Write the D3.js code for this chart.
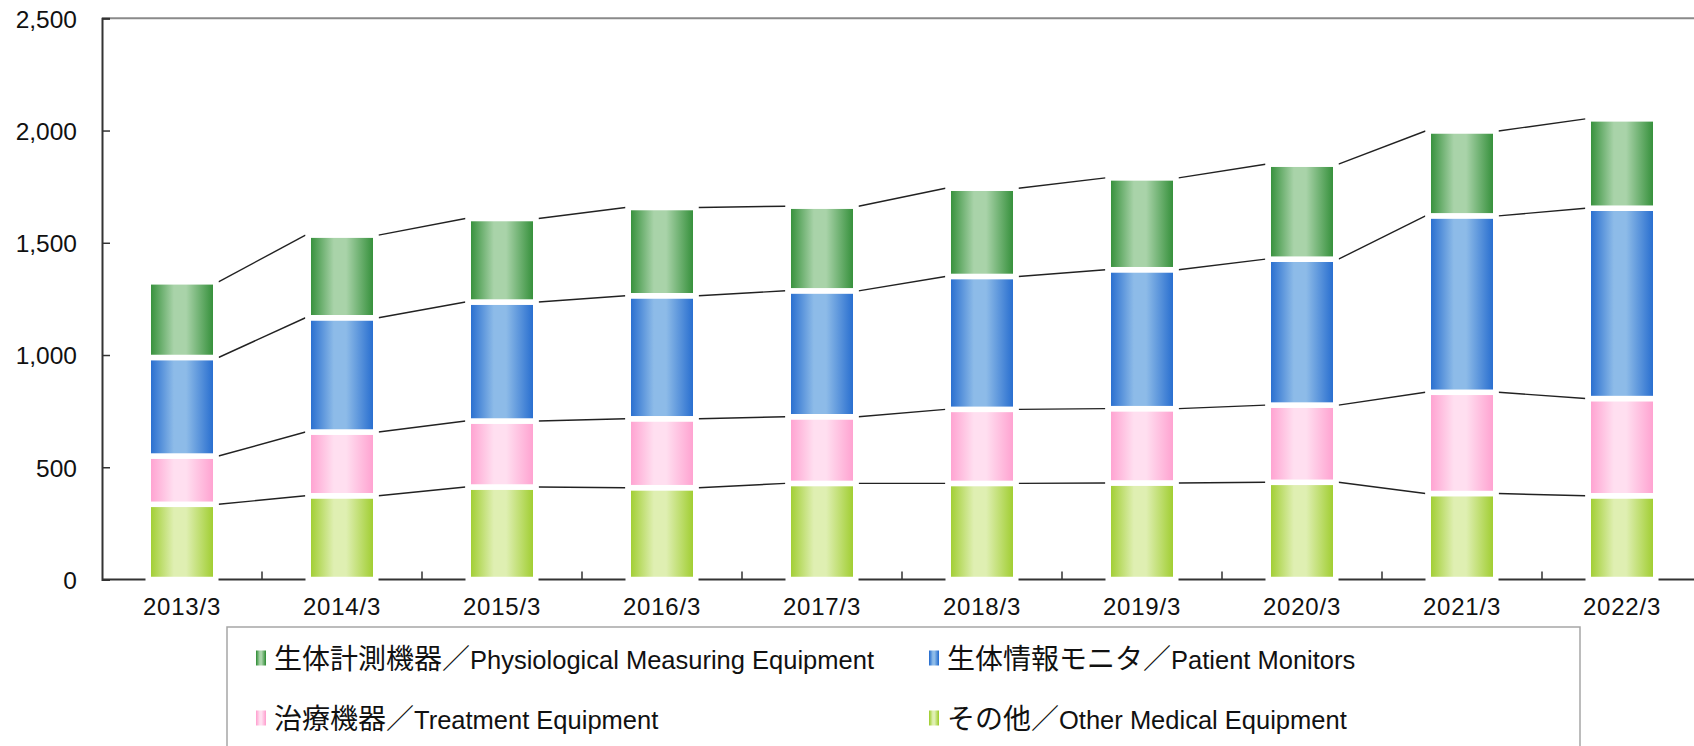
<!DOCTYPE html>
<html><head><meta charset="utf-8">
<script src="https://cdn.jsdelivr.net/npm/d3@7/dist/d3.min.js"></script>
<style>body{margin:0;background:#fff;overflow:hidden}svg{display:block}</style>
</head><body><svg id="c" width="1694" height="746"></svg>
<script>
const categories = ["2013/3","2014/3","2015/3","2016/3","2017/3","2018/3","2019/3","2020/3","2021/3","2022/3"];
const otherMedical = [335,373,412,409,428,428,430,433,383,373];
const treatment = [215,284,294,307,297,330,331,344,451,433];
const patientMonitors = [439,509,530,548,561,592,619,650,786,848];
const physiological = [337,368,372,393,377,393,409,423,378,398];
const yTicks = [0,500,1000,1500,2000,2500];
const seriesNamesJa = ["その他","治療機器","生体情報モニタ","生体計測機器"];
const seriesNamesEn = ["Other Medical Equipment","Treatment Equipment","Patient Monitors","Physiological Measuring Equipment"];
const seriesValues = [otherMedical, treatment, patientMonitors, physiological];
const seriesColors = [
  {edge:"#9bcb26", mid:"#dfefb2"},
  {edge:"#ff9dce", mid:"#ffdff0"},
  {edge:"#1f67cd", mid:"#8dbbe8"},
  {edge:"#2b8a31", mid:"#a9d3a9"}
];

const svg = d3.select("#c");
const stroke = 5.5;
const x = d3.scaleBand().domain(categories).range([102,1702]).paddingInner(1-67.5/160).paddingOuter((1-67.5/160)/2);
const y = d3.scaleLinear().domain([0,2500]).range([579.5,18.3]);
const bw = x.bandwidth();

const defs = svg.append("defs");
seriesColors.forEach((c,i)=>{
  const g = defs.append("linearGradient").attr("id","g"+i).attr("x1","0").attr("x2","1").attr("y1","0").attr("y2","0");
  [[0,c.edge],[0.38,c.mid],[0.56,c.mid],[1,c.edge]].forEach(s=>g.append("stop").attr("offset",s[0]).attr("stop-color",s[1]));
});

const table = categories.map((c,i)=>{const o={cat:c}; seriesValues.forEach((s,k)=>o["s"+k]=s[i]); return o;});
const stack = d3.stack().keys(seriesValues.map((s,k)=>"s"+k))(table);

svg.append("line").attr("x1",102).attr("x2",1694).attr("y1",y(2500)).attr("y2",y(2500)).attr("stroke","#8a8a8a").attr("stroke-width",2);

const ya = svg.append("g").attr("transform","translate(102,0)")
  .call(d3.axisLeft(y).tickValues(yTicks).tickSize(-8).tickPadding(25).tickFormat(d3.format(",")));
ya.select(".domain").attr("stroke","#333").attr("stroke-width",2);
ya.selectAll(".tick line").attr("stroke","#333").attr("stroke-width",1.5);
ya.selectAll("text").attr("font-family","'Liberation Sans', Arial, sans-serif").attr("font-size",24.5).attr("fill","#111").attr("dy","0.36em");

svg.append("line").attr("x1",102).attr("x2",1694).attr("y1",y(0)).attr("y2",y(0)).attr("stroke","#333").attr("stroke-width",2);
const gap = x.step()-bw;
categories.slice(1).forEach(c=>{
  const bx = x(c)-gap/2;
  svg.append("line").attr("x1",bx).attr("x2",bx).attr("y1",y(0)).attr("y2",y(0)-8).attr("stroke","#333").attr("stroke-width",1.5);
});
svg.append("g").selectAll("text").data(categories).join("text")
  .attr("x",d=>x(d)+bw/2).attr("y",615)
  .attr("text-anchor","middle").attr("font-family","'Liberation Sans', Arial, sans-serif").attr("font-size",24).attr("letter-spacing",0.8).attr("fill","#111")
  .text(d=>d);

const lines = svg.append("g");
stack.forEach(layer=>{
  for(let i=0;i<categories.length-1;i++){
    lines.append("line")
      .attr("x1",x(categories[i])+bw+stroke/2).attr("y1",y(layer[i][1]))
      .attr("x2",x(categories[i+1])-stroke/2).attr("y2",y(layer[i+1][1]))
      .attr("stroke","#222").attr("stroke-width",1.4);
  }
});

stack.forEach((layer,k)=>{
  svg.append("g").selectAll("rect").data(layer).join("rect")
    .attr("x",d=>x(d.data.cat)).attr("width",bw)
    .attr("y",d=>y(d[1])).attr("height",d=>y(d[0])-y(d[1]))
    .attr("fill",`url(#g${k})`).attr("stroke","#fff").attr("stroke-width",stroke);
});

// legend
svg.append("rect").attr("x",227).attr("y",627).attr("width",1353).attr("height",200)
  .attr("fill","#fff").attr("stroke","#a6a6a6").attr("stroke-width",1.5);
const legendOrder = [3,2,1,0];
const legendPos = [[256,658],[929,658],[256,718],[929,718]];
legendOrder.forEach((k,j)=>{
  const [lx,ly] = legendPos[j];
  svg.append("rect").attr("x",lx).attr("y",ly-7.5).attr("width",10).attr("height",15).attr("fill",`url(#g${k})`);
  const t = svg.append("text").attr("x",lx+18).attr("y",ly+10.5).attr("fill","#111");
  t.append("tspan").attr("font-family","'Noto Sans CJK JP', sans-serif").attr("font-size",28).text(seriesNamesJa[k]+"／");
  t.append("tspan").attr("font-family","'Liberation Sans', Arial, sans-serif").attr("font-size",25.5).text(seriesNamesEn[k]);
});
</script></body></html>
